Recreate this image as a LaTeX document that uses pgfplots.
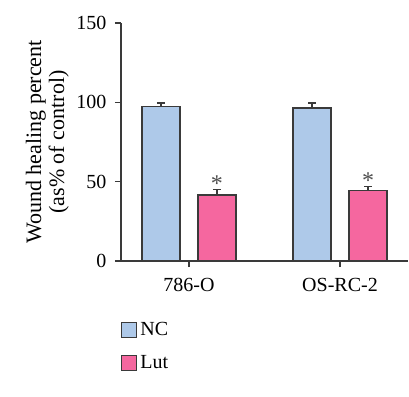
\documentclass[border=0pt]{standalone}
\usepackage{fontspec}
\setmainfont{Liberation Serif}
\usepackage{pgfplots}
\pgfplotsset{compat=1.18}
\definecolor{ncblue}{HTML}{AEC9E9}
\definecolor{lutpink}{HTML}{F5679F}
\definecolor{edge}{HTML}{3A3A3A}
\begin{document}
\begin{tikzpicture}
\path[use as bounding box] (0pt,0pt) rectangle (409pt,396pt);
\begin{axis}[
 at={(121pt,135pt)}, anchor=south west,
 scale only axis, width=287pt, height=238pt,
 ybar, bar width=38pt,
 xmin=-0.45, xmax=1.45, ymin=0, ymax=150,
 axis x line*=bottom, axis y line*=left,
 axis line style={edge, line width=1.2pt},
 xtick={0,1}, xticklabels={786-O,OS-RC-2},
 ytick={0,50,100,150},
 tick align=outside, major tick length=6pt,
 tick style={edge, line width=1.2pt},
 ticklabel style={font=\fontsize{20}{24}\selectfont},
 yticklabel style={xshift=-5pt},
 xticklabel style={yshift=-8pt},
 /pgf/number format/assume math mode=true,
 ylabel={Wound healing percent\\(as\% of control)},
 ylabel style={align=center, font=\fontsize{22}{23}\selectfont, at={(axis description cs:-0.257,0.5)}, anchor=center},
 legend style={at={(axis description cs:0,-0.25)}, anchor=north west, draw=none, fill=none,
   font=\fontsize{20}{24}\selectfont, row sep=14pt, inner sep=0pt, nodes={inner xsep=3pt}},
 legend cell align=left,
 legend image code/.code={\draw[#1, line width=1.2pt] (0pt,-7.5pt) rectangle (15pt,7.5pt);},
]
\addplot[bar shift=-28pt, fill=ncblue, draw=edge, line width=1.2pt,
  error bars/.cd, y dir=plus, y explicit,
  error bar style={edge, line width=1.5pt},
  error mark=|, error mark options={edge, mark size=4pt, line width=1.5pt}]
  coordinates {(0,97.2) +- (0,2.4) (1,96.4) +- (0,3.2)};
\addlegendentry{NC}
\addplot[bar shift=28pt, fill=lutpink, draw=edge, line width=1.2pt,
  error bars/.cd, y dir=plus, y explicit,
  error bar style={edge, line width=1.5pt},
  error mark=|, error mark options={edge, mark size=4pt, line width=1.5pt}]
  coordinates {(0,41.6) +- (0,3.6) (1,44.5) +- (0,2.3)};
\addlegendentry{Lut}
\addplot[bar shift=28pt, draw=none, fill=none, forget plot,
  nodes near coords={*},
  every node near coord/.append style={anchor=base, inner sep=0pt, yshift=-2pt, font=\fontsize{24}{28}\selectfont, text=edge!90}]
  coordinates {(0,45.2) (1,46.8)};
\end{axis}
\end{tikzpicture}
\end{document}
